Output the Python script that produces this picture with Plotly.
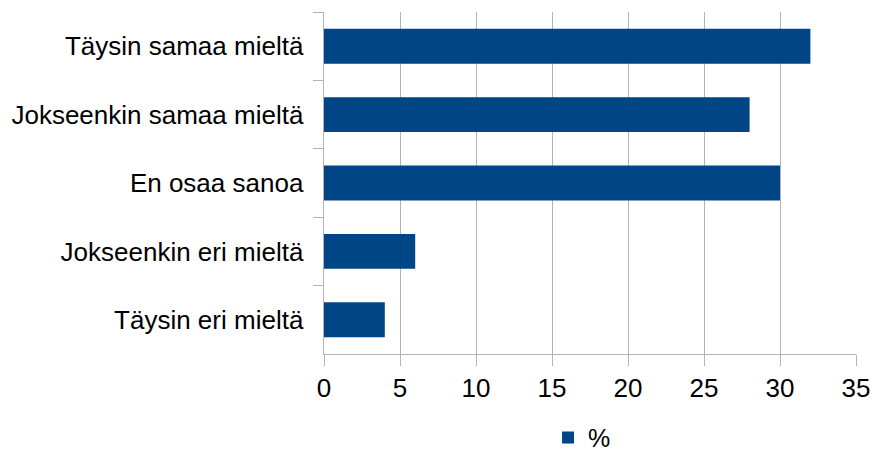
import plotly.graph_objects as go

categories = ["Täysin samaa mieltä", "Jokseenkin samaa mieltä", "En osaa sanoa",
              "Jokseenkin eri mieltä", "Täysin eri mieltä"]
values = [32, 28, 30, 6, 4]
series_name = "%"
x_ticks = [0, 5, 10, 15, 20, 25, 30, 35]

fig = go.Figure()
fig.add_trace(go.Bar(
    y=categories, x=values, orientation="h", name=series_name,
    marker=dict(color="#004586", line=dict(width=0)),
    showlegend=True,
))

grid = "#b3b3b3"
fig.update_layout(
    width=872, height=452,
    margin=dict(l=324, r=16, t=12, b=98, autoexpand=False),
    plot_bgcolor="white", paper_bgcolor="white",
    font=dict(family="Liberation Sans, Arial, sans-serif", size=26, color="black"),
    bargap=0.49,
    showlegend=True,
    legend=dict(orientation="h", x=0.485, xanchor="center", xref="paper",
                y=-0.245, yanchor="middle", font=dict(size=25)),
    xaxis=dict(range=[0, 35], tickvals=x_ticks, showgrid=True, gridcolor=grid,
               gridwidth=1, zeroline=False, showline=True, linecolor=grid,
               ticks="outside", ticklen=11, tickcolor=grid, mirror=False,
               automargin=False),
    yaxis=dict(autorange="reversed", showgrid=False, zeroline=False,
               showline=True, linecolor=grid, ticks="outside", ticklen=10,
               tickcolor=grid, tickson="boundaries", ticksuffix="  ",
               automargin=False),
)

fig.write_html("out.html",
               config={"displayModeBar": False},
               post_script="document.body.style.margin='0';document.body.style.overflow='hidden';")
